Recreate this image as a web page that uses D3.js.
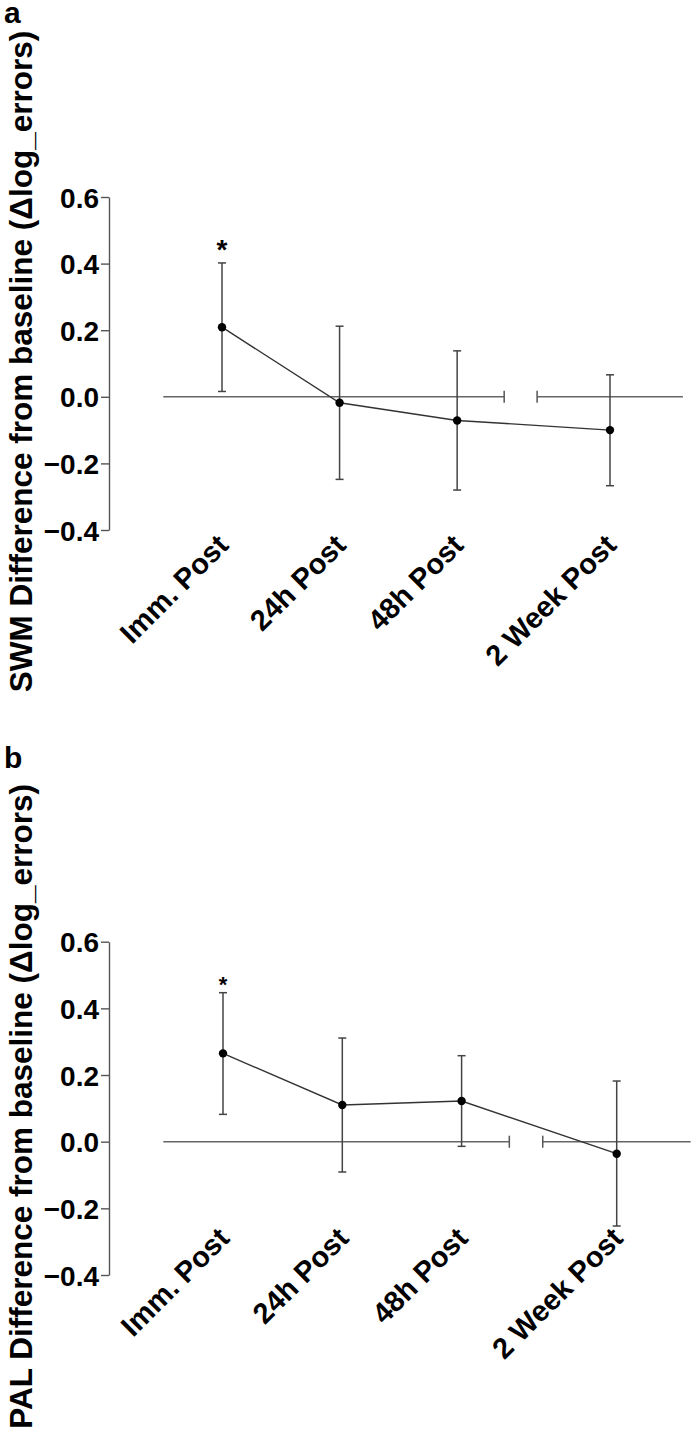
<!DOCTYPE html>
<html>
<head>
<meta charset="utf-8">
<script src="https://cdn.jsdelivr.net/npm/d3@7"></script>
<style>
  html, body { margin: 0; padding: 0; background: #fff; }
  svg { display: block; }
  text { font-family: "Liberation Sans", Arial, sans-serif; font-weight: bold; fill: #000; }
</style>
</head>
<body>
<svg id="chart" width="694" height="1432"></svg>
<script>
// ---- data ----
const categories = ["Imm. Post", "24h Post", "48h Post", "2 Week Post"];
const categoryPositions = [1, 2, 3, 4.3];          // x positions on a broken x axis
const axisSegments = [[0.5, 3.4], [3.68, 4.92]];   // x-axis pieces (break between 48h and 2 Week)
const yTickValues = [-0.4, -0.2, 0.0, 0.2, 0.4, 0.6];
const significance = ["*", "", "", ""];

const swmMean  = [0.209, -0.018, -0.071, -0.100];
const swmUpper = [0.402,  0.212,  0.138,  0.066];
const swmLower = [0.016, -0.248, -0.280, -0.267];

const palMean  = [0.265,  0.110,  0.122, -0.036];
const palUpper = [0.447,  0.311,  0.258,  0.182];
const palLower = [0.082, -0.091, -0.014, -0.253];

const panelLetters = ["a", "b"];
const yTitles = ["SWM Difference from baseline (\u0394log_errors)",
                 "PAL Difference from baseline (\u0394log_errors)"];

// ---- layout ----
const panels = [
  { letter: panelLetters[0], title: yTitles[0], mean: swmMean, upper: swmUpper, lower: swmLower,
    yTop: 197, yBottom: 530, x1: 222, x43: 610, letterY: 23, labelY: 547, starSize: 28, starGap: 4 },
  { letter: panelLetters[1], title: yTitles[1], mean: palMean, upper: palUpper, lower: palLower,
    yTop: 941.7, yBottom: 1275, x1: 223, x43: 616.7, letterY: 768, labelY: 1240, starSize: 22, starGap: 1 }
];
const axisX = 109;

const svg = d3.select("#chart");

panels.forEach(p => {
  const g = svg.append("g");
  const y = d3.scaleLinear().domain([-0.4, 0.6]).range([p.yBottom, p.yTop]);
  const x = d3.scaleLinear().domain([1, 4.3]).range([p.x1, p.x43]);

  // panel letter
  g.append("text").attr("x", 4).attr("y", p.letterY)
    .attr("font-size", 30).text(p.letter);

  // y axis
  const yAxis = d3.axisLeft(y).tickValues(yTickValues)
    .tickFormat(d3.format(".1f")).tickSize(8).tickSizeOuter(0).tickPadding(2);
  const ya = g.append("g").attr("transform", `translate(${axisX},0)`).call(yAxis);
  ya.select(".domain").attr("stroke", "#555").attr("stroke-width", 1.4);
  ya.selectAll(".tick line").attr("stroke", "#555").attr("stroke-width", 1.4);
  ya.selectAll(".tick text")
    .attr("font-size", 28).attr("font-family", "Liberation Sans, Arial, sans-serif")
    .attr("font-weight", "bold").attr("fill", "#000").attr("dy", "0.36em");

  // y title
  const cy = (p.yTop + p.yBottom) / 2 - 2;
  g.append("text")
    .attr("transform", `translate(32,${cy}) rotate(-90)`)
    .attr("text-anchor", "middle").attr("font-size", 31.5).text(p.title);

  // x axis at y = 0, with a break
  axisSegments.forEach(s => {
    g.append("line")
      .attr("x1", x(s[0])).attr("x2", x(s[1]))
      .attr("y1", y(0)).attr("y2", y(0))
      .attr("stroke", "#666").attr("stroke-width", 1.5);
  });
  // break caps
  [axisSegments[0][1], axisSegments[1][0]].forEach(v => {
    g.append("line")
      .attr("x1", x(v)).attr("x2", x(v))
      .attr("y1", y(0) - 6).attr("y2", y(0) + 6)
      .attr("stroke", "#555").attr("stroke-width", 1.5);
  });

  // category labels
  categories.forEach((c, i) => {
    g.append("text")
      .attr("transform", `translate(${x(categoryPositions[i]) + 8},${p.labelY}) rotate(-45)`)
      .attr("text-anchor", "end").attr("font-size", 29).text(c);
  });

  const rows = categories.map((c, i) => ({
    x: categoryPositions[i], m: p.mean[i], hi: p.upper[i], lo: p.lower[i], sig: significance[i]
  }));

  // error bars
  const eb = g.selectAll(".eb").data(rows).enter().append("g");
  eb.append("line")
    .attr("x1", d => x(d.x)).attr("x2", d => x(d.x))
    .attr("y1", d => y(d.hi)).attr("y2", d => y(d.lo))
    .attr("stroke", "#444").attr("stroke-width", 1.5);
  eb.append("line")
    .attr("x1", d => x(d.x) - 4).attr("x2", d => x(d.x) + 4)
    .attr("y1", d => y(d.hi)).attr("y2", d => y(d.hi))
    .attr("stroke", "#444").attr("stroke-width", 1.5);
  eb.append("line")
    .attr("x1", d => x(d.x) - 4).attr("x2", d => x(d.x) + 4)
    .attr("y1", d => y(d.lo)).attr("y2", d => y(d.lo))
    .attr("stroke", "#444").attr("stroke-width", 1.5);

  // mean line
  g.append("path").datum(rows)
    .attr("d", d3.line().x(d => x(d.x)).y(d => y(d.m)))
    .attr("fill", "none").attr("stroke", "#333").attr("stroke-width", 1.4);

  // points
  g.selectAll(".pt").data(rows).enter().append("circle")
    .attr("cx", d => x(d.x)).attr("cy", d => y(d.m)).attr("r", 4.2).attr("fill", "#000");

  // significance stars
  g.selectAll(".sig").data(rows.filter(d => d.sig)).enter().append("text")
    .attr("x", d => x(d.x)).attr("y", d => y(d.hi) - p.starGap)
    .attr("text-anchor", "middle").attr("font-size", p.starSize).text(d => d.sig);
});
</script>
</body>
</html>
